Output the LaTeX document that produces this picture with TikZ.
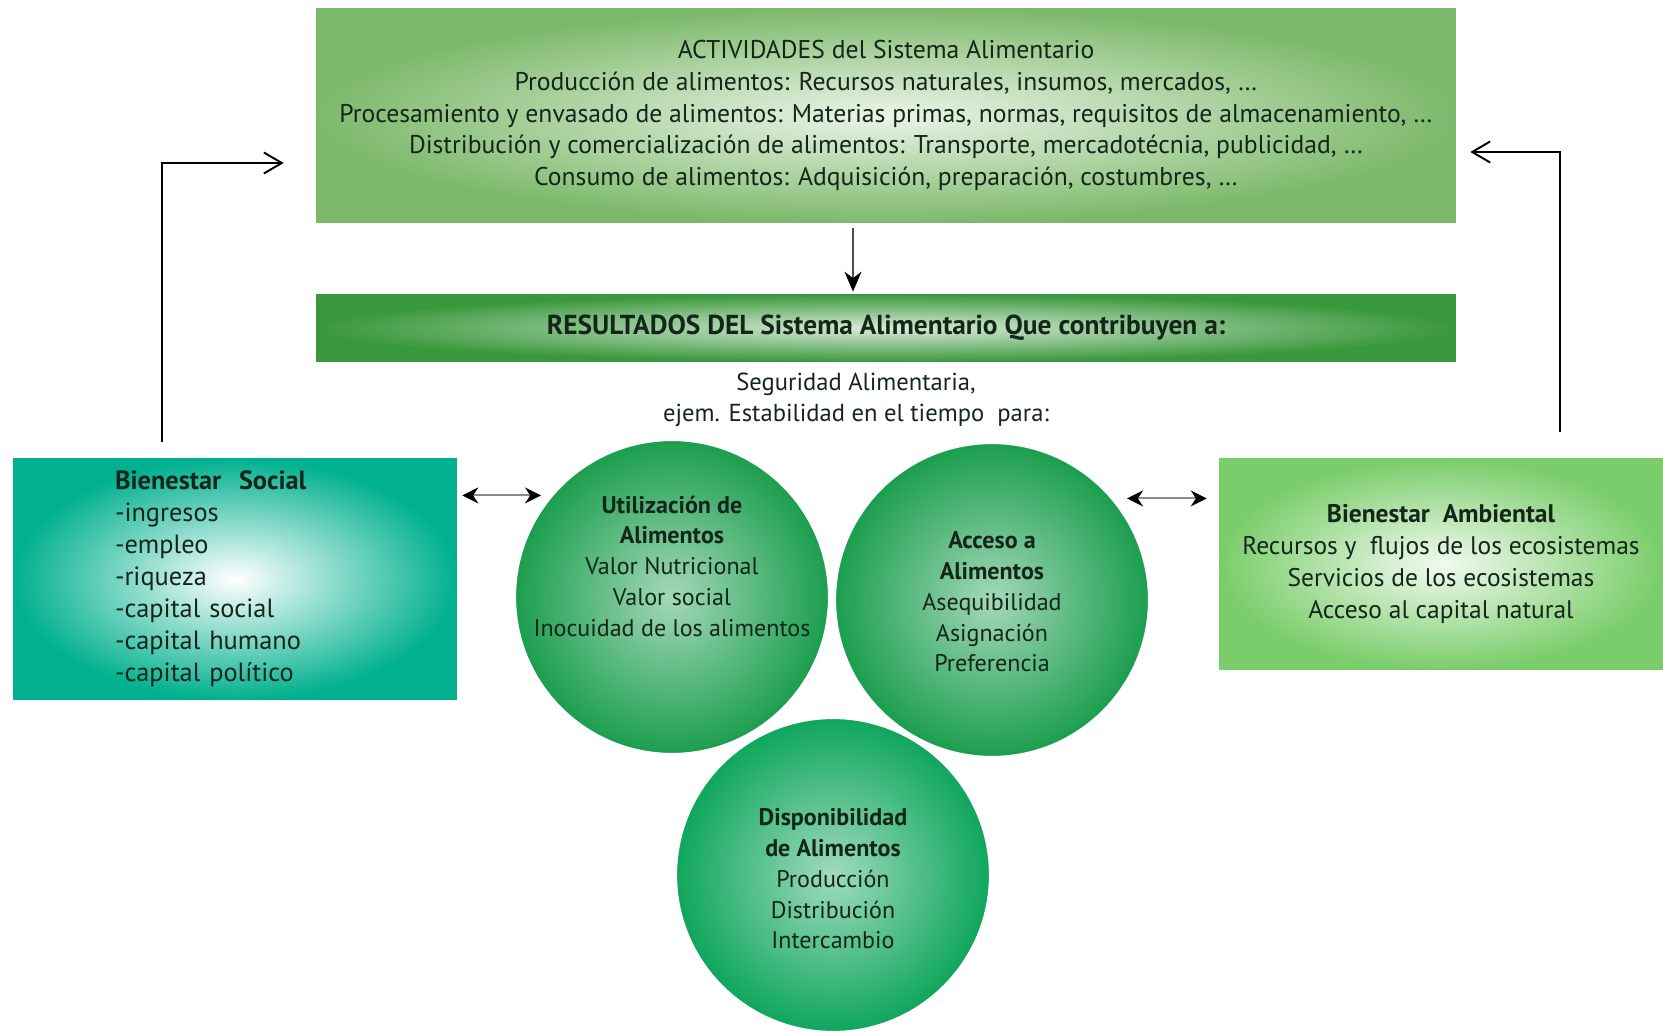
\documentclass[tikz,border=0pt]{standalone}
\usepackage{fontspec}
\setmainfont{PT Sans}
\usepackage{xcolor}
\definecolor{actGreen}{HTML}{7DB96B}
\definecolor{resGreen}{HTML}{3A983C}
\definecolor{socTeal}{HTML}{00B08E}
\definecolor{ambGreen}{HTML}{7ACD6A}
\definecolor{circGreen}{HTML}{1B9E4E}
\definecolor{dispGreen}{HTML}{0FA65C}
\definecolor{inkDark}{HTML}{14261A}
\usepackage{tikz}
\usetikzlibrary{calc,arrows.meta}

\begin{document}
\begin{tikzpicture}[x=0.02cm, y=-0.02cm,
  box/.style={rectangle, inner sep=0pt, align=center, text=inkDark,
    font=\fontsize{14.6}{18}\selectfont},
  ball/.style={circle, minimum size=6.28cm, inner sep=0pt, draw=white, line width=1.2pt},
  balltext/.style={align=center, text=inkDark, font=\fontsize{13.7}{17.5}\selectfont},
  fb/.style={line width=1.1pt, -{Straight Barb[length=0.36cm, width=0.42cm]}},
  dbl/.style={draw=black!45, line width=1.2pt,
    {Stealth[length=0.32cm, width=0.32cm, color=black]}-{Stealth[length=0.32cm, width=0.32cm, color=black]}}]
  \useasboundingbox (0,0) rectangle (1663,1033);
  % activities
  \node[box, minimum width=22.8cm, minimum height=4.3cm,
    inner color=white!85!actGreen, outer color=actGreen] (activ) at (886,115.5)
    {ACTIVIDADES del Sistema Alimentario\\
     Producción de alimentos: Recursos naturales, insumos, mercados, \ldots\\
     Procesamiento y envasado de alimentos: Materias primas, normas, requisitos de almacenamiento, \ldots\\
     Distribución y comercialización de alimentos: Transporte, mercadotécnia, publicidad, \ldots\\
     Consumo de alimentos: Adquisición, preparación, costumbres, \ldots};
  % results bar
  \node[box, minimum width=22.8cm, minimum height=1.36cm, font=\fontsize{15.6}{18}\selectfont,
    inner color=white!80!resGreen, outer color=resGreen] (result) at (886,328)
    {\textbf{RESULTADOS DEL Sistema Alimentario Que contribuyen a:}};
  \node[box, font=\fontsize{14}{18}\selectfont] (segur) at (856,400)
    {Seguridad Alimentaria,\\ ejem. Estabilidad en el tiempo\ \ para:};
  % side boxes
  \node[box, align=left, minimum width=8.88cm, minimum height=4.84cm, inner xsep=2.04cm,
    text width=4.8cm, font=\fontsize{15}{18.2}\selectfont,
    inner color=white, outer color=socTeal] (social) at (235,579)
    {\textbf{Bienestar\ \ Social}\\ -ingresos\\ -empleo\\ -riqueza\\
     -capital social\\ -capital humano\\ -capital político};
  \node[box, minimum width=8.88cm, minimum height=4.24cm, font=\fontsize{14.5}{18.2}\selectfont,
    inner color=white!90!ambGreen, outer color=ambGreen] (ambient) at (1441,564)
    {\textbf{Bienestar\ \ Ambiental}\\ Recursos y\ \ flujos de los ecosistemas\\
     Servicios de los ecosistemas\\ Acceso al capital natural};
  % food security circles
  \node[ball, inner color=white!60!circGreen, outer color=circGreen] (util) at (672,597) {};
  \node[ball, inner color=white!60!circGreen, outer color=circGreen] (acceso) at (992,600) {};
  \node[ball, inner color=white!60!dispGreen, outer color=dispGreen] (disp) at (833,875) {};
  \node[balltext] (utilT) at (672,566)
    {\textbf{Utilización de}\\ \textbf{Alimentos}\\ Valor Nutricional\\ Valor social\\ Inocuidad de los alimentos};
  \node[balltext] (accesoT) at (992,602)
    {\textbf{Acceso a}\\ \textbf{Alimentos}\\ Asequibilidad\\ Asignación\\ Preferencia};
  \node[balltext] (dispT) at (833,879)
    {\textbf{Disponibilidad}\\ \textbf{de Alimentos}\\ Producción\\ Distribución\\ Intercambio};
  % connectors
  \coordinate (dn) at (853,0);
  \coordinate (fbL) at (162,163);
  \coordinate (fbR) at (1560,152);
  \draw[draw=black!70, line width=1.2pt, -{Stealth[length=0.4cm, width=0.34cm, color=black]},
    shorten <=0.1cm, shorten >=0.04cm] (activ.south -| dn) -- (result.north -| dn);
  \draw[fb, shorten <=0.32cm, shorten >=0.64cm] (social.north -| fbL) |- (activ.west |- fbL);
  \draw[fb, shorten <=0.52cm, shorten >=0.28cm] (ambient.north -| fbR) |- (activ.east |- fbR);
  \draw[dbl, shorten <=0.1cm, shorten >=0.2cm] (social.east |- util.140) -- (util.140);
  \draw[dbl, shorten <=0.28cm, shorten >=0.24cm] (acceso.40) -- (ambient.west |- acceso.40);
\end{tikzpicture}
\end{document}
